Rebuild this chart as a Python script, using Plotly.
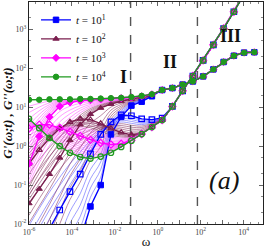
import numpy as np
import plotly.graph_objects as go

# ---- data (log10 values) ----
omega_log = [-6.0, -5.523, -5.046, -4.569, -4.092, -3.614, -3.137, -2.66, -2.183,
             -1.706, -1.229, -0.752, -0.275, 0.202, 0.68, 1.157, 1.634, 2.111,
             2.588, 3.065, 3.542, 4.019, 4.496]

# common high-frequency part (shared by all ages), k = 14..22
Gp_high_log = [1.49, 1.58, 1.66, 1.79, 1.97, 2.16, 2.32, 2.40, 2.41]
Gpp_high_log = [1.02, 1.42, 1.80, 2.20, 2.60, 3.02, 3.45, 3.90, 4.35]

# low-frequency part, k = 0..13
Gp_t1_log = [-6.5, -5.5, -4.6, -3.7, -2.9, -2.4, -1.55, -1.0, 0.3, 0.75, 1.04, 1.14, 1.28, 1.44]
Gpp_t1_log = [-3.1, -2.6, -2.1, -1.64, -1.17, -0.72, -0.2, 0.3, 0.62, 0.8, 0.78, 0.7, 0.68, 0.72]
Gp_t2_log = [-1.47, -1.10, -0.72, -0.30, 0.15, 0.55, 0.82, 0.98, 1.08, 1.15, 1.21, 1.26, 1.32, 1.44]
Gpp_t2_log = [-0.45, -0.10, 0.20, 0.45, 0.62, 0.70, 0.68, 0.58, 0.45, 0.35, 0.29, 0.33, 0.49, 0.67]
Gp_t3_log = [-0.45, 0.25, 0.75, 1.02, 1.12, 1.16, 1.18, 1.20, 1.22, 1.23, 1.25, 1.28, 1.33, 1.44]
Gpp_t3_log = [0.45, 0.55, 0.55, 0.47, 0.37, 0.26, 0.16, 0.08, 0.04, 0.06, 0.15, 0.31, 0.49, 0.67]
Gp_t4_log = [1.19, 1.19, 1.20, 1.20, 1.20, 1.21, 1.21, 1.22, 1.23, 1.24, 1.26, 1.29, 1.33, 1.44]
Gpp_t4_log = [0.70, 0.46, 0.21, 0.00, -0.17, -0.28, -0.32, -0.27, -0.17, -0.02, 0.14, 0.31, 0.49, 0.67]

legend_labels = ["<i>t</i> = 10<sup>1</sup>", "<i>t</i> = 10<sup>2</sup>",
                 "<i>t</i> = 10<sup>3</sup>", "<i>t</i> = 10<sup>4</sup>"]
colors = ["#0000ff", "#7a1e4e", "#ff00ff", "#1f9a1f"]
thin_colors = ["rgba(70,70,255,0.75)", "rgba(125,35,85,0.75)", "rgba(255,70,255,0.75)"]
symbols = ["square", "triangle-up", "diamond", "circle"]

# fractional positions of intermediate-age thin curves between successive ages
thin_weights = [0.1, 0.2, 0.3, 0.4, 0.5, 0.6, 0.7, 0.8, 0.9]

dashed_omega = [0.054, 70.0]
x_tick_vals = [1e-6, 1e-5, 1e-4, 1e-3, 1e-2, 1e-1, 1, 10, 1e2, 1e3, 1e4]
x_tick_text = ["10<sup>-6</sup>", "", "10<sup>-4</sup>", "", "10<sup>-2</sup>", "",
               "10<sup>0</sup>", "", "10<sup>2</sup>", "", "10<sup>4</sup>"]
y_tick_vals = [1e-2, 1e-1, 1, 10, 1e2, 1e3]
y_tick_text = ["10<sup>-2</sup>", "10<sup>-1</sup>", "10<sup>0</sup>",
               "10<sup>1</sup>", "10<sup>2</sup>", "10<sup>3</sup>"]

# ---- build ----
omega = 10 ** np.array(omega_log)
Gp_all = [np.array(a + Gp_high_log) for a in (Gp_t1_log, Gp_t2_log, Gp_t3_log, Gp_t4_log)]
Gpp_all = [np.array(a + Gpp_high_log) for a in (Gpp_t1_log, Gpp_t2_log, Gpp_t3_log, Gpp_t4_log)]

fig = go.Figure()

# thin intermediate curves
for i in range(3):
    for w in thin_weights:
        if i == 0:
            c = thin_colors[0] if w < 0.45 else thin_colors[1]
        elif i == 1:
            c = thin_colors[1] if w < 0.5 else thin_colors[2]
        else:
            c = thin_colors[2]
        for arr in (Gp_all, Gpp_all):
            yy = (1 - w) * arr[i] + w * arr[i + 1]
            fig.add_trace(go.Scatter(x=omega, y=10 ** yy, mode="lines",
                                     line=dict(color=c, width=0.7, shape="spline"),
                                     showlegend=False, hoverinfo="skip"))

# dashed region separators
for d in dashed_omega:
    fig.add_trace(go.Scatter(x=[d, d], y=[1e-2, 1e4], mode="lines",
                             line=dict(color="#555555", width=1.4, dash="dash"),
                             showlegend=False, hoverinfo="skip"))

# highlighted ages
for i in range(4):
    fig.add_trace(go.Scatter(x=omega, y=10 ** Gp_all[i], mode="lines+markers",
                             name=legend_labels[i],
                             line=dict(color=colors[i], width=1.4),
                             marker=dict(symbol=symbols[i], size=5.5, color=colors[i],
                                         line=dict(color=colors[i], width=1))))
    fig.add_trace(go.Scatter(x=omega, y=10 ** Gpp_all[i], mode="lines+markers",
                             showlegend=False,
                             line=dict(color=colors[i], width=1.4),
                             marker=dict(symbol=symbols[i] + "-open", size=5.5, color=colors[i],
                                         line=dict(color=colors[i], width=1.2))))

serif = "Liberation Serif"
fig.update_layout(
    width=266, height=249,
    margin=dict(l=29, r=3, t=2, b=25),
    paper_bgcolor="white", plot_bgcolor="white",
    font=dict(family=serif, color="#222222", size=9),
    showlegend=True,
    legend=dict(x=0.03, y=0.985, xanchor="left", yanchor="top",
                bgcolor="rgba(0,0,0,0)", font=dict(family=serif, size=11, color="#111111"),
                itemwidth=30, tracegroupgap=0),
    xaxis=dict(type="log", range=[-6, 4.9], showgrid=False, zeroline=False,
               showline=True, linecolor="#222222", linewidth=1.2, mirror="ticks",
               ticks="inside", ticklen=4, tickcolor="#666666",
               tickvals=x_tick_vals, ticktext=x_tick_text,
               tickfont=dict(family=serif, size=8, color="#444444"),
               minor=dict(ticks="inside", ticklen=2, tickcolor="#888888"),
               title=dict(text="ω", font=dict(family=serif, size=13, color="#111111"), standoff=2),
               automargin=False),
    yaxis=dict(type="log", range=[-2, 3.7], showgrid=False, zeroline=False,
               showline=True, linecolor="#222222", linewidth=1.2, mirror="ticks",
               ticks="inside", ticklen=4, tickcolor="#666666",
               tickvals=y_tick_vals, ticktext=y_tick_text,
               tickfont=dict(family=serif, size=8, color="#444444"),
               minor=dict(ticks="inside", ticklen=2, tickcolor="#888888"),
               title=dict(text="<b><i>G'(ω;t) , G''(ω;t)</i></b>",
                          font=dict(family=serif, size=13, color="#111111"), standoff=1),
               automargin=False),
    annotations=[
        dict(x=0.402, y=0.66, xref="paper", yref="paper", text="<b>I</b>", showarrow=False,
             font=dict(family=serif, size=18, color="#111111")),
        dict(x=0.603, y=0.785, xref="paper", yref="paper", text="<b>II</b>", showarrow=False,
             font=dict(family=serif, size=18, color="#111111")),
        dict(x=0.915, y=0.9, xref="paper", yref="paper", text="<b>III</b>", showarrow=False,
             font=dict(family=serif, size=18, color="#111111")),
        dict(x=0.906, y=0.122, xref="paper", yref="paper", text="<i>(a)</i>", showarrow=False,
             font=dict(family=serif, size=26, color="#111111")),
    ],
)

fig.write_html("out.html", config={"displayModeBar": False},
               post_script="document.body.style.margin='0';document.body.style.overflow='hidden';")
